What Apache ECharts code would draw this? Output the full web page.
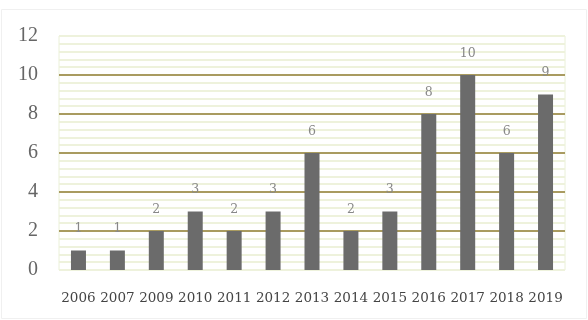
<!DOCTYPE html>
<html><head><meta charset="utf-8">
<script src="https://cdn.jsdelivr.net/npm/echarts@6/dist/echarts.min.js"></script>
<style>html,body{margin:0;padding:0;background:#fff}#c{width:588px;height:320px}</style>
</head><body><div id="c"></div>
<script>
const categories = ['2006','2007','2009','2010','2011','2012','2013','2014','2015','2016','2017','2018','2019'];
const values = [1,1,2,3,2,3,6,2,3,8,10,6,9];
const yMin = 0, yMax = 12, yInterval = 2;

const chart = echarts.init(document.getElementById('c'), null, {renderer:'canvas'});
chart.setOption({
  animation:false,
  backgroundColor:'#fff',
  graphic:[{type:'rect',shape:{x:1.5,y:9.5,width:585,height:309},style:{fill:'none',stroke:'#f0f0f0',lineWidth:1},z:-1}],
  grid:{left:59,right:23,top:36,bottom:50,show:true,borderColor:'#eaf0d8',borderWidth:1},
  xAxis:{type:'category',data:categories,
    axisLine:{show:false},axisTick:{show:false},
    axisLabel:{fontFamily:'DejaVu Serif',fontSize:13.5,color:'#444',margin:21,interval:0}},
  yAxis:{type:'value',min:yMin,max:yMax,interval:yInterval,
    axisLine:{show:false},axisTick:{show:false},
    axisLabel:{fontFamily:'Liberation Serif',fontSize:20,color:'#666',margin:21},
    splitLine:{show:true,lineStyle:{width:2,color:['#eef2dc','#a99b60','#a99b60','#a99b60','#a99b60','#a99b60','#eef2dc']}},
    minorTick:{show:false,splitNumber:5},
    minorSplitLine:{show:true,lineStyle:{color:'#eef2dc',width:2}}},
  series:[{type:'bar',data:values,barWidth:15,
    itemStyle:{color:'#6b6b6b'},
    label:{show:true,position:'top',distance:15,fontFamily:'DejaVu Serif',fontSize:12.5,color:'#888'}}]
});
</script></body></html>
